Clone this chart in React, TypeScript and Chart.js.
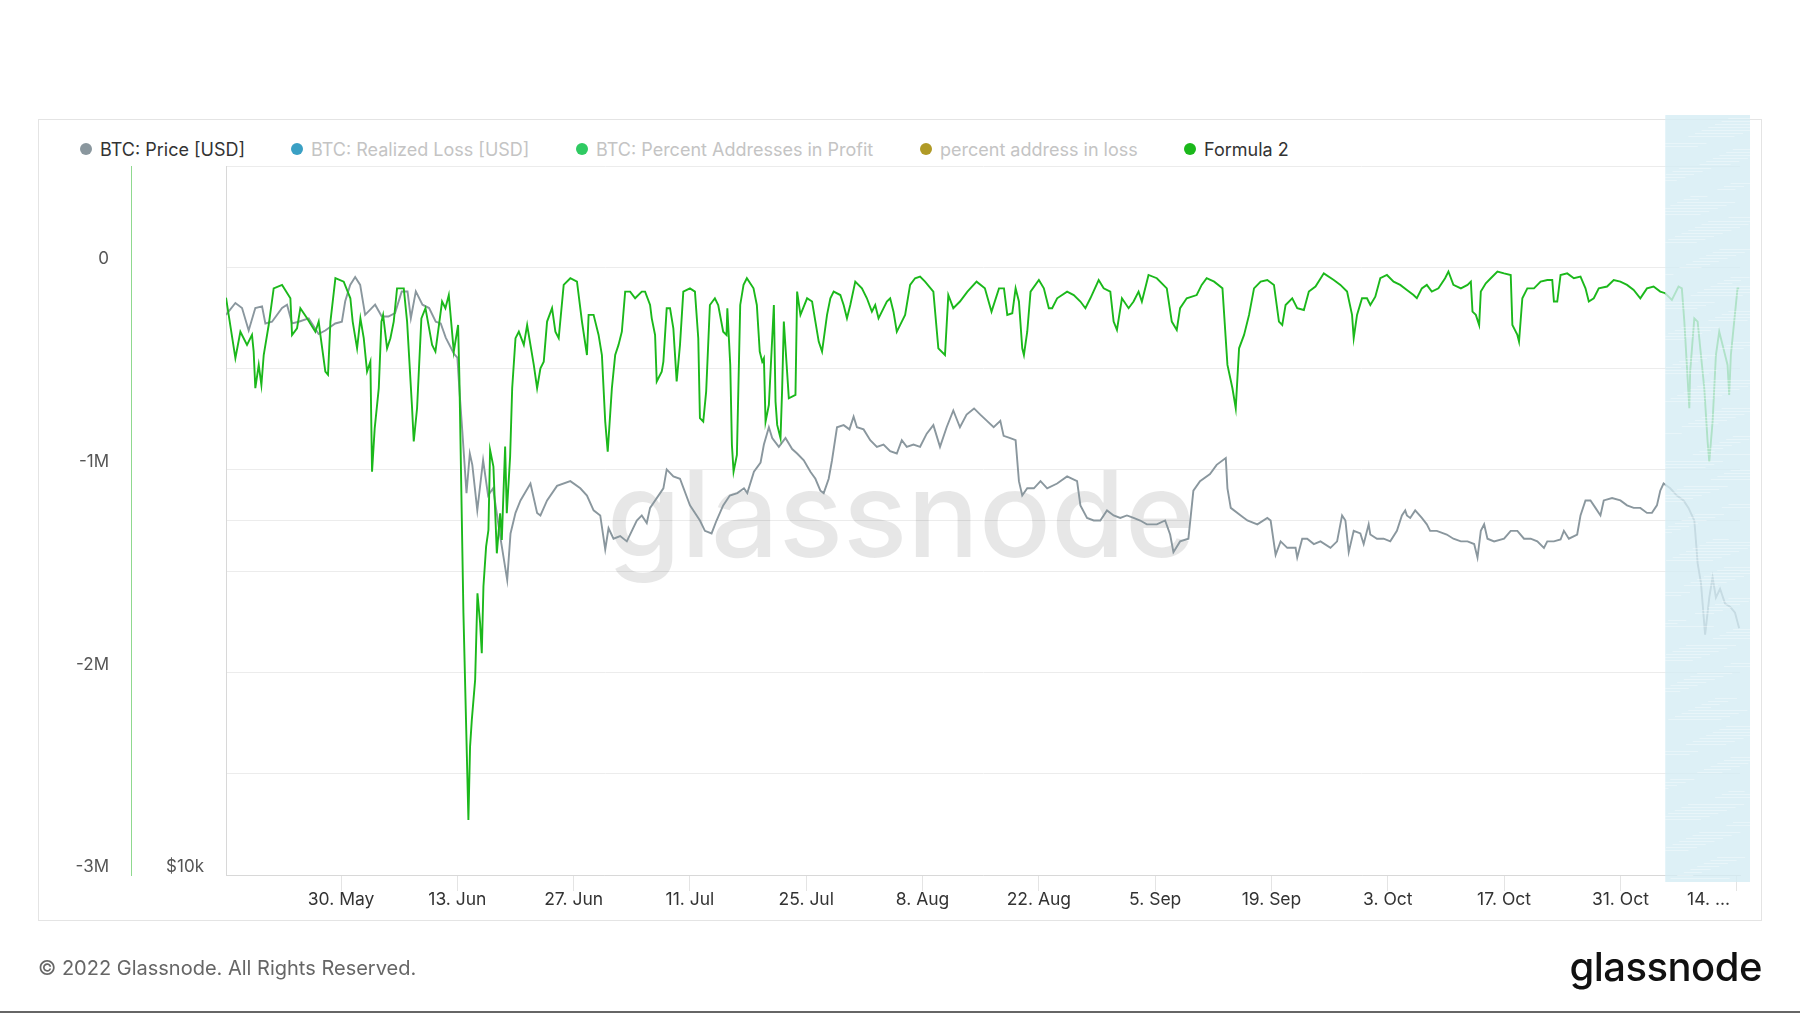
import React, { useEffect, useRef } from 'react';
import { Chart, registerables } from 'chart.js';

Chart.register(...registerables);

// ---- Data (x = days since 16 May 2022) ----
const formulaDays = [
  0.15, 1.28, 1.88, 2.68, 3.28, 3.48, 3.68, 4.09, 4.41, 4.69, 5.29, 5.89, 6.9, 7.9, 8.1, 8.7, 9.1, 9.91, 10.91, 11.31,
  11.51, 12.11, 12.43, 12.72, 13.32, 14.32, 15.12, 15.4, 15.93, 16.33, 16.73, 17.13, 17.53, 17.73, 18.05, 18.54, 18.86, 19.06, 19.54, 19.94,
  20.34, 20.74, 21.55, 21.95, 22.55, 22.75, 23.15, 23.67, 24.16, 24.96, 25.36, 26.16, 26.56, 26.97, 27.57, 28.09, 28.25, 28.73, 29.33, 29.53,
  29.74, 30.14, 30.42, 30.74, 30.94, 31.14, 31.46, 31.74, 31.94, 32.34, 32.75, 33.15, 33.35, 33.75, 33.95, 34.35, 34.6, 35.0, 35.4, 36.0,
  36.4, 37.2, 37.6, 38.0, 38.4, 38.8, 39.4, 39.8, 40.2, 40.8, 41.6, 42.4, 43.0, 43.6, 43.8, 44.4, 45.0, 45.4, 45.8, 46.1,
  46.6, 47.0, 47.4, 47.8, 48.2, 48.8, 49.4, 50.2, 50.6, 51.2, 51.4, 51.8, 52.0, 52.6, 52.8, 53.2, 53.6, 54.0, 54.4, 54.8,
  55.2, 56.0, 56.6, 57.0, 57.2, 57.6, 57.95, 58.4, 59.0, 59.4, 60.0, 60.4, 60.5, 60.85, 61.05, 61.25, 61.65, 62.05, 62.45, 62.85,
  63.65, 64.05, 64.4, 64.7, 64.9, 65.1, 65.5, 66.1, 66.3, 66.5, 66.9, 67.1, 67.3, 67.9, 68.7, 68.9, 69.3, 70.1, 70.7, 71.1,
  71.5, 71.9, 72.5, 72.9, 73.3, 74.1, 74.5, 74.9, 75.3, 75.9, 76.7, 77.3, 77.9, 78.3, 78.7, 79.7, 80.1, 80.5, 80.9, 81.5,
  81.9, 82.5, 83.1, 83.7, 84.3, 85.3, 85.9, 86.7, 87.1, 87.7, 88.5, 89.4, 90.5, 91.5, 92.3, 93.2, 93.8, 94.2, 94.8, 95.2,
  95.6, 96.0, 96.2, 96.6, 97.0, 98.0, 98.6, 99.2, 99.6, 100.2, 101.4, 102.2, 103.0, 103.6, 104.2, 105.2, 105.8, 106.6, 107.0, 107.4,
  108.0, 108.8, 109.4, 110.0, 110.4, 111.2, 112.2, 113.4, 114.0, 114.6, 115.0, 115.8, 117.0, 117.6, 118.2, 119.1, 120.1, 120.7, 121.3, 121.7,
  122.1, 122.7, 123.3, 123.9, 124.7, 125.5, 126.3, 126.9, 127.3, 127.7, 128.5, 129.1, 129.9, 130.5, 131.3, 132.3, 133.5, 134.3, 135.1, 135.7,
  135.9, 136.3, 136.9, 137.5, 137.9, 138.5, 139.1, 139.9, 140.7, 141.5, 142.3, 143.1, 143.5, 144.1, 144.7, 145.3, 146.1, 146.9, 147.3, 147.9,
  148.8, 149.6, 150.0, 150.2, 150.6, 151.0, 151.2, 151.8, 152.4, 153.2, 154.0, 154.8, 155.0, 155.6, 155.8, 156.2, 156.8, 157.6, 158.4, 159.2,
  159.8, 160.0, 160.4, 160.8, 161.6, 162.4, 163.2, 163.8, 164.2, 164.8, 165.4, 166.4, 167.2, 168.0, 168.8, 169.6, 170.4, 171.2, 172.0, 172.8,
  173.4, 174.2, 175.0, 175.4, 175.7, 176.3, 176.4, 176.9, 177.3, 177.7, 178.1, 178.5, 178.7, 179.1, 179.5, 179.9, 180.3, 180.9, 181.1, 181.3,
  181.7, 182.1, 182.3,
];

const formulaValues = [
  -150000, -449000, -318000, -383000, -334000, -416000, -597000, -482000, -581000, -433000, -285000, -104000, -87000, -153000, -334000, -301000, -202000, -252000, -318000, -268000,
  -334000, -515000, -531000, -268000, -54000, -71000, -153000, -268000, -400000, -252000, -350000, -515000, -466000, -1009000, -795000, -597000, -268000, -235000, -400000, -350000,
  -268000, -104000, -104000, -268000, -696000, -860000, -696000, -252000, -202000, -383000, -416000, -169000, -202000, -137000, -416000, -285000, -556000, -1706000, -2728000, -2366000,
  -2234000, -2037000, -1609000, -1757000, -1905000, -1576000, -1379000, -1297000, -902000, -984000, -1412000, -1214000, -1346000, -885000, -1214000, -935000, -597000, -350000, -318000, -383000,
  -285000, -482000, -597000, -499000, -466000, -268000, -202000, -318000, -350000, -87000, -54000, -71000, -268000, -433000, -235000, -235000, -334000, -433000, -762000, -910000,
  -597000, -433000, -383000, -318000, -120000, -120000, -153000, -120000, -120000, -186000, -252000, -334000, -564000, -515000, -466000, -202000, -202000, -301000, -564000, -383000,
  -120000, -104000, -120000, -350000, -745000, -762000, -614000, -186000, -153000, -186000, -318000, -334000, -202000, -482000, -877000, -1009000, -926000, -186000, -87000, -54000,
  -104000, -186000, -416000, -466000, -449000, -762000, -679000, -186000, -663000, -778000, -844000, -597000, -268000, -647000, -630000, -120000, -235000, -153000, -169000, -268000,
  -367000, -416000, -235000, -153000, -120000, -137000, -186000, -252000, -186000, -71000, -104000, -153000, -219000, -186000, -252000, -169000, -153000, -219000, -318000, -268000,
  -235000, -87000, -54000, -46000, -71000, -120000, -400000, -433000, -137000, -202000, -169000, -120000, -71000, -104000, -219000, -104000, -104000, -235000, -227000, -104000,
  -169000, -400000, -433000, -318000, -120000, -63000, -104000, -202000, -202000, -153000, -120000, -137000, -169000, -202000, -153000, -63000, -104000, -120000, -268000, -309000,
  -153000, -202000, -169000, -120000, -169000, -38000, -54000, -104000, -268000, -309000, -202000, -153000, -137000, -87000, -54000, -71000, -104000, -482000, -597000, -696000,
  -400000, -334000, -235000, -104000, -71000, -63000, -87000, -268000, -285000, -186000, -153000, -202000, -211000, -120000, -95000, -30000, -63000, -87000, -120000, -235000,
  -350000, -235000, -153000, -153000, -186000, -145000, -54000, -38000, -71000, -87000, -112000, -137000, -153000, -104000, -87000, -120000, -104000, -54000, -21000, -87000,
  -104000, -87000, -71000, -219000, -235000, -285000, -120000, -79000, -54000, -21000, -30000, -38000, -285000, -334000, -367000, -153000, -104000, -104000, -71000, -63000,
  -63000, -169000, -169000, -38000, -30000, -54000, -46000, -104000, -169000, -153000, -104000, -95000, -63000, -71000, -87000, -112000, -153000, -104000, -95000, -120000,
  -128000, -161000, -95000, -104000, -268000, -696000, -515000, -252000, -268000, -433000, -597000, -860000, -959000, -762000, -433000, -318000, -383000, -482000, -630000, -433000,
  -268000, -104000, -104000,
];

const priceDays = [
  0.15, 1.28, 2.08, 2.88, 3.68, 4.49, 4.89, 5.69, 6.9, 7.5, 8.1, 8.9, 10.1, 11.3, 12.1, 13.3, 14.1, 14.5, 15.1, 15.7,
  16.3, 16.9, 18.1, 18.9, 19.7, 20.5, 21.3, 22.0, 22.4, 23.0, 23.8, 24.6, 25.4, 26.0, 26.6, 27.6, 28.0, 28.3, 28.6, 29.1,
  29.5, 29.8, 30.4, 31.1, 31.7, 32.3, 33.1, 34.0, 34.4, 35.0, 35.6, 36.8, 37.6, 38.0, 38.8, 40.0, 41.6, 42.8, 43.6, 44.4,
  45.2, 45.8, 46.2, 46.8, 47.6, 48.4, 49.6, 50.2, 50.8, 51.2, 52.8, 53.2, 54.0, 54.8, 56.0, 57.2, 57.8, 58.6, 59.2, 60.0,
  60.8, 61.7, 62.5, 62.9, 63.7, 64.5, 64.9, 65.5, 65.9, 66.7, 67.5, 68.3, 68.9, 69.7, 70.5, 71.1, 71.7, 72.1, 72.7, 73.1,
  73.7, 74.5, 75.2, 75.7, 76.1, 76.9, 77.7, 78.5, 79.3, 80.1, 80.9, 81.5, 82.1, 82.9, 83.7, 84.5, 85.3, 86.1, 86.9, 87.7,
  88.5, 89.3, 90.2, 90.95, 91.75, 92.56, 93.36, 93.76, 94.56, 95.2, 95.6, 96.0, 96.6, 97.4, 98.2, 99.0, 100.2, 101.4, 102.6, 103.0,
  103.8, 104.6, 105.4, 106.2, 107.0, 107.8, 108.6, 109.4, 110.2, 111.0, 112.2, 113.2, 113.8, 114.2, 115.0, 116.0, 116.6, 117.4, 118.6, 119.4,
  120.5, 120.7, 121.1, 122.3, 123.1, 124.3, 125.5, 125.9, 126.5, 127.1, 127.9, 128.9, 129.1, 129.7, 130.3, 131.1, 131.9, 133.1, 133.9, 134.5,
  134.9, 135.3, 135.9, 136.7, 137.1, 137.7, 137.9, 138.7, 139.5, 140.3, 141.1, 141.7, 142.1, 142.3, 142.7, 143.3, 144.1, 144.7, 145.1, 145.9,
  147.1, 147.9, 148.8, 149.6, 150.4, 150.8, 151.2, 151.6, 152.0, 152.8, 154.0, 154.8, 155.6, 156.4, 157.2, 158.0, 158.8, 159.2, 160.0, 160.8,
  161.2, 161.8, 162.8, 163.2, 163.8, 164.4, 165.0, 165.6, 166.0, 167.0, 168.0, 168.8, 169.6, 170.4, 171.2, 171.8, 172.4, 172.8, 173.2, 174.0,
  174.8, 175.6, 176.2, 176.9, 177.1, 177.3, 177.7, 178.2, 178.7, 179.1, 179.5, 180.0, 180.6, 181.2, 181.8, 182.3,
];

const priceValues = [
  29900, 30600, 30300, 29000, 30300, 30400, 29400, 29500, 30300, 30500, 29400, 29500, 29700, 28800, 29000, 29400, 29500, 30700, 31700, 32200,
  31700, 29900, 30500, 29800, 29800, 30000, 31300, 31300, 29700, 31300, 30500, 30300, 29500, 29400, 28600, 27700, 27500, 25500, 23800, 21100,
  22800, 22300, 20400, 22500, 21000, 21300, 19500, 17800, 19500, 20300, 20800, 21500, 20300, 20200, 20800, 21400, 21600, 21300, 21000, 20400,
  20200, 18900, 19700, 19300, 19400, 19200, 20000, 20200, 19900, 20500, 21300, 22100, 21800, 21700, 20600, 20000, 19600, 19500, 20000, 20600,
  21000, 21100, 21300, 21100, 22000, 22400, 23200, 24000, 23500, 23100, 23500, 23000, 22800, 22500, 22000, 21700, 21200, 21100, 21700, 22500,
  24000, 24100, 23900, 24500, 24000, 23900, 23400, 23100, 23200, 22900, 22800, 23400, 23100, 23200, 23100, 23700, 24100, 23100, 24000, 24800,
  24000, 24600, 24900, 24600, 24300, 24000, 24300, 23600, 23500, 23400, 21600, 21000, 21300, 21300, 21600, 21300, 21500, 21800, 21600, 20600,
  20100, 20000, 20000, 20400, 20200, 20100, 20200, 20100, 20000, 19850, 19850, 20000, 19460, 18800, 19200, 19300, 21200, 21600, 21900, 22300,
  22600, 21300, 20500, 20200, 20000, 19850, 20100, 20000, 18700, 19200, 18960, 18960, 18600, 19300, 19300, 19100, 19200, 18960, 19200, 20200,
  20000, 18800, 19600, 19500, 19100, 19850, 19460, 19300, 19300, 19200, 19600, 20200, 20400, 20200, 20100, 20400, 20100, 19850, 19600, 19600,
  19460, 19300, 19200, 19200, 19100, 18600, 19600, 19850, 19300, 19200, 19300, 19600, 19600, 19300, 19300, 19200, 18960, 19200, 19200, 19270,
  19600, 19300, 19460, 20200, 20800, 20800, 20500, 20200, 20800, 20900, 20800, 20600, 20500, 20500, 20300, 20300, 20600, 21200, 21500, 21300,
  21000, 20800, 20500, 20000, 19200, 18400, 17700, 16000, 17200, 17900, 17200, 17500, 17000, 16900, 16700, 16200,
];

const xTickDays = [14, 28, 42, 56, 70, 84, 98, 112, 126, 140, 154, 168, 182];
const xTickLabels = ['30. May', '13. Jun', '27. Jun', '11. Jul', '25. Jul', '8. Aug', '22. Aug', '5. Sep', '19. Sep', '3. Oct', '17. Oct', '31. Oct', '14. ...'];
const priceTickValues = [10000, 20000];
const overlayStartDay = 173.4;

const legendNames = ['BTC: Price [USD]', 'BTC: Realized Loss [USD]', 'BTC: Percent Addresses in Profit', 'percent address in loss', 'Formula 2'];
const legendColors = ['#8a979e', '#3aa0c4', '#2fca62', '#b09a26', '#1bb81b'];
const legendActive = [true, false, false, false, true];
const legendX = [80, 291, 576, 920, 1184];

const FONT = 'Inter, "Noto Sans", sans-serif';

const watermarkPlugin = {
  id: 'watermark',
  beforeDatasetsDraw(chart: any) {
    const { ctx } = chart;
    ctx.save();
    ctx.font = `500 100px ${FONT}`;
    const w = ctx.measureText('glassnode').width;
    const size = (100 * 588) / w;
    ctx.font = `500 ${size}px ${FONT}`;
    ctx.fillStyle = 'rgba(0,0,0,0.095)';
    ctx.textAlign = 'center';
    ctx.textBaseline = 'alphabetic';
    ctx.fillText('glassnode', 901, 557);
    ctx.restore();
  },
};

const overlayPlugin = {
  id: 'overlay',
  afterDatasetsDraw(chart: any) {
    const { ctx, chartArea, scales } = chart;
    const x0 = scales.x.getPixelForValue(overlayStartDay);
    const x1 = chartArea.right + 10;
    const y0 = chartArea.top - 51;
    const y1 = chartArea.bottom + 7;
    ctx.save();
    ctx.fillStyle = 'rgba(212,236,244,0.8)';
    ctx.fillRect(x0, y0, x1 - x0, y1 - y0);
    ctx.beginPath();
    ctx.rect(x0, y0, x1 - x0, y1 - y0);
    ctx.clip();
    ctx.fillStyle = 'rgba(255,255,255,0.35)';
    const W = x1 - x0;
    const H = y1 - y0;
    for (let i = 0; i < 220; i++) {
      const y = y0 + ((i * 53) % H);
      const x = x0 + ((i * 29) % W) - 15;
      const len = 15 + ((i * 17) % 45);
      ctx.fillRect(x, y, len, 1);
    }
    ctx.restore();
  },
};

const xLabelPlugin = {
  id: 'xLabels',
  afterDraw(chart: any) {
    const { ctx, chartArea, scales } = chart;
    ctx.save();
    ctx.font = `17.5px ${FONT}`;
    ctx.fillStyle = '#333';
    ctx.textBaseline = 'middle';
    const limit = chartArea.right - 10;
    xTickDays.forEach((d, i) => {
      const px = scales.x.getPixelForValue(d);
      const label = xTickLabels[i];
      const w = ctx.measureText(label).width;
      if (px + w / 2 > limit) {
        ctx.textAlign = 'right';
        ctx.fillText(label, limit, chartArea.bottom + 25);
      } else {
        ctx.textAlign = 'center';
        ctx.fillText(label, px, chartArea.bottom + 25);
      }
    });
    ctx.restore();
  },
};

export default function App() {
  const canvasRef = useRef<HTMLCanvasElement | null>(null);

  useEffect(() => {
    const canvas = canvasRef.current;
    if (!canvas) return;
    const formulaData = formulaDays.map((d, i) => ({ x: d, y: formulaValues[i] }));
    const priceData = priceDays.map((d, i) => ({ x: d, y: priceValues[i] }));

    const chart = new Chart(canvas, {
      type: 'line',
      data: {
        datasets: [
          {
            label: 'Formula 2',
            data: formulaData,
            yAxisID: 'yF',
            borderColor: '#1bb81b',
            borderWidth: 1.9,
            pointRadius: 0,
            tension: 0,
          },
          {
            label: 'BTC: Price [USD]',
            data: priceData,
            yAxisID: 'yP',
            borderColor: '#8a979e',
            borderWidth: 1.9,
            pointRadius: 0,
            tension: 0,
          },
        ],
      },
      options: {
        responsive: false,
        animation: false,
        layout: { padding: { left: 51, right: 60, top: 166, bottom: 98 } },
        plugins: { legend: { display: false }, tooltip: { enabled: false } },
        scales: {
          x: {
            type: 'linear',
            min: 0.15,
            max: 182.4,
            afterBuildTicks: (s: any) => {
              s.ticks = xTickDays.map((v) => ({ value: v }));
            },
            afterFit: (s: any) => {
              s.height = 40;
            },
            ticks: { display: false },
            grid: { drawOnChartArea: false, drawTicks: true, tickLength: 16, color: '#e4e4e4' },
            border: { display: true, color: '#d8d8d8' },
          },
          yF: {
            type: 'linear',
            position: 'left',
            weight: 1,
            min: -3000000,
            max: 500000,
            afterFit: (s: any) => {
              s.width = 80;
            },
            ticks: {
              stepSize: 500000,
              color: '#555',
              font: { family: FONT, size: 17 },
              padding: 22,
              labelOffset: -8,
              callback: (v: any) => {
                const n = Number(v);
                if (n === 0) return '0';
                if (n % 1000000 === 0) return `${n / 1000000}M`;
                return '';
              },
            },
            grid: { color: '#ececec', drawTicks: false },
            border: { display: true, color: '#8fd98f' },
          },
          yP: {
            type: 'logarithmic',
            position: 'left',
            weight: 0,
            min: 10000,
            max: 40000,
            afterBuildTicks: (s: any) => {
              s.ticks = priceTickValues.map((v) => ({ value: v }));
            },
            afterFit: (s: any) => {
              s.width = 95;
            },
            ticks: {
              color: '#555',
              font: { family: FONT, size: 17 },
              padding: 22,
              labelOffset: -8,
              callback: (v: any) => (Number(v) === 10000 ? '$10k' : ''),
            },
            grid: { color: '#ececec', drawTicks: false },
            border: { display: true, color: '#d8d8d8' },
          },
        },
      } as any,
      plugins: [watermarkPlugin, overlayPlugin, xLabelPlugin],
    });
    return () => chart.destroy();
  }, []);

  return (
    <div
      style={{
        position: 'fixed',
        left: 0,
        top: 0,
        width: 1800,
        height: 1013,
        background: '#fff',
        overflow: 'hidden',
        fontFamily: FONT,
      }}
    >
      <div
        style={{
          position: 'absolute',
          left: 38,
          top: 119,
          width: 1724,
          height: 802,
          boxSizing: 'border-box',
          border: '1px solid #e4e4e4',
        }}
      />
      {legendNames.map((name, i) => (
        <div
          key={name}
          style={{
            position: 'absolute',
            left: legendX[i],
            top: 137,
            height: 24,
            display: 'flex',
            alignItems: 'center',
            whiteSpace: 'nowrap',
            fontSize: 18,
            color: legendActive[i] ? '#333' : '#c4c4c4',
          }}
        >
          <span
            style={{
              display: 'inline-block',
              width: 12,
              height: 12,
              borderRadius: 6,
              background: legendColors[i],
              marginRight: 8,
            }}
          />
          {name}
        </div>
      ))}
      <canvas
        ref={canvasRef}
        width={1800}
        height={1013}
        style={{ position: 'absolute', left: 0, top: 0, width: 1800, height: 1013 }}
      />
      <div
        style={{
          position: 'absolute',
          left: 38,
          top: 955,
          fontSize: 20,
          lineHeight: '26px',
          color: '#666',
          whiteSpace: 'nowrap',
        }}
      >
        © 2022 Glassnode. All Rights Reserved.
      </div>
      <div
        style={{
          position: 'absolute',
          right: 38,
          top: 942,
          fontSize: 40,
          lineHeight: '50px',
          fontWeight: 500,
          letterSpacing: -0.5,
          color: '#111',
          whiteSpace: 'nowrap',
        }}
      >
        glassnode
      </div>
      <div style={{ position: 'absolute', left: 0, top: 1011, width: 1800, height: 2, background: '#666' }} />
    </div>
  );
}
